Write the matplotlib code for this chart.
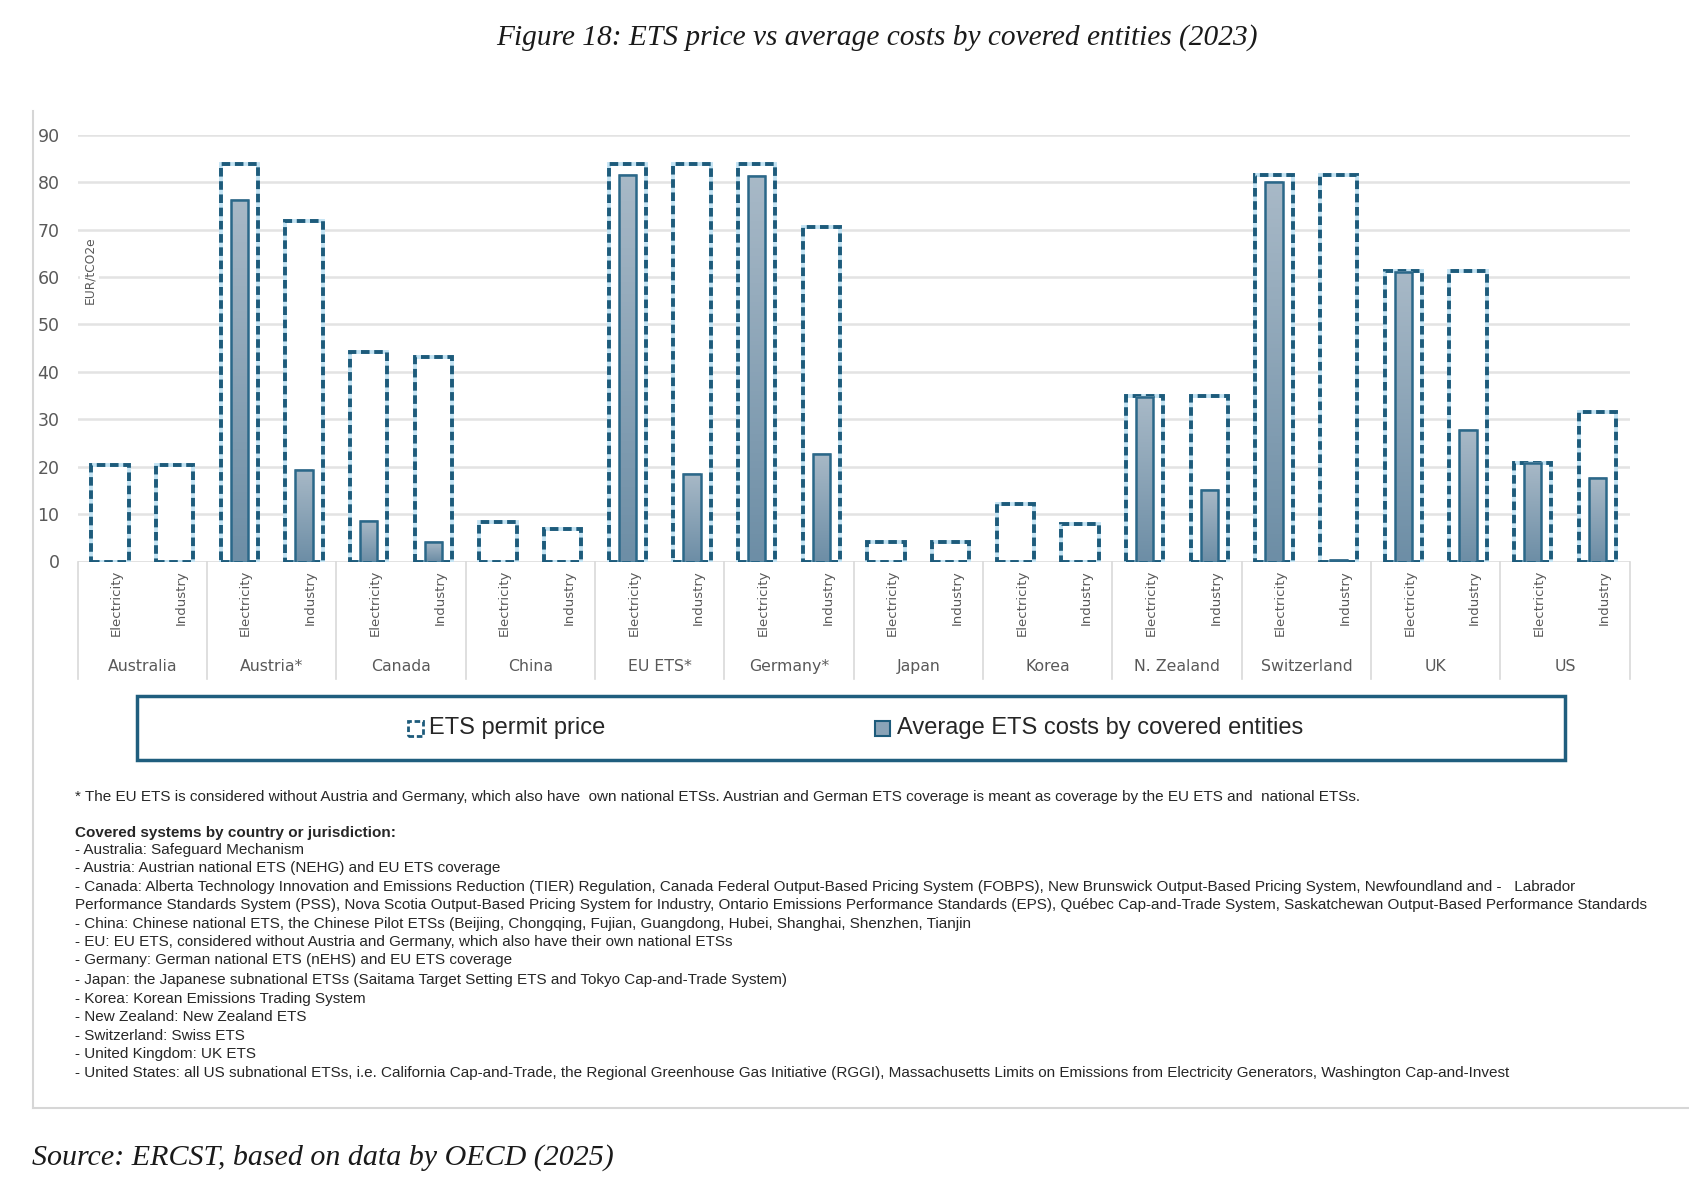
import numpy as np
import matplotlib
matplotlib.use('Agg')
import matplotlib.pyplot as plt
from matplotlib.patches import Rectangle
from matplotlib.lines import Line2D
from matplotlib.colors import LinearSegmentedColormap

# data (EUR/tCO2e)
countries = ['Australia', 'Austria*', 'Canada', 'China', 'EU ETS*', 'Germany*',
             'Japan', 'Korea', 'N. Zealand', 'Switzerland', 'UK', 'US']
sectors = ['Electricity', 'Industry']
permit_elec = [20.3, 83.8, 44.2, 8.4, 83.8, 83.8, 4.2, 12.2, 34.9, 81.4, 61.3, 20.8]
permit_ind = [20.3, 71.7, 43.2, 6.9, 83.8, 70.5, 4.2, 8.0, 34.9, 81.4, 61.3, 31.6]
avg_elec = [0, 76.2, 8.5, 0, 81.6, 81.2, 0, 0, 34.7, 80.0, 61.1, 20.8]
avg_ind = [0, 19.2, 4.2, 0, 18.4, 22.6, 0, 0, 15.0, 0.3, 27.7, 17.7]

notes = [
    "* The EU ETS is considered without Austria and Germany, which also have  own national ETSs. Austrian and German ETS coverage is meant as coverage by the EU ETS and  national ETSs.",
    "Covered systems by country or jurisdiction:",
    "- Australia: Safeguard Mechanism",
    "- Austria: Austrian national ETS (NEHG) and EU ETS coverage",
    "- Canada: Alberta Technology Innovation and Emissions Reduction (TIER) Regulation, Canada Federal Output-Based Pricing System (FOBPS), New Brunswick Output-Based Pricing System, Newfoundland and -   Labrador",
    "Performance Standards System (PSS), Nova Scotia Output-Based Pricing System for Industry, Ontario Emissions Performance Standards (EPS), Québec Cap-and-Trade System, Saskatchewan Output-Based Performance Standards",
    "- China: Chinese national ETS, the Chinese Pilot ETSs (Beijing, Chongqing, Fujian, Guangdong, Hubei, Shanghai, Shenzhen, Tianjin",
    "- EU: EU ETS, considered without Austria and Germany, which also have their own national ETSs",
    "- Germany: German national ETS (nEHS) and EU ETS coverage",
    "- Japan: the Japanese subnational ETSs (Saitama Target Setting ETS and Tokyo Cap-and-Trade System)",
    "- Korea: Korean Emissions Trading System",
    "- New Zealand: New Zealand ETS",
    "- Switzerland: Swiss ETS",
    "- United Kingdom: UK ETS",
    "- United States: all US subnational ETSs, i.e. California Cap-and-Trade, the Regional Greenhouse Gas Initiative (RGGI), Massachusetts Limits on Emissions from Electricity Generators, Washington Cap-and-Invest",
]

permit = np.ravel(np.column_stack([permit_elec, permit_ind]))
avg = np.ravel(np.column_stack([avg_elec, avg_ind]))
x = np.arange(len(permit))

W, H = 1690, 1184
fig = plt.figure(figsize=(W / 100, H / 100), dpi=100)
ax = fig.add_axes([77.6 / W, 1 - 561.5 / H, (1629.7 - 77.6) / W, (561.5 - 134.7) / H])

dark = '#1d5b7b'
light = '#c3e3f3'
grid = '#e3e3e3'
txtgrey = '#595959'

for v in range(10, 100, 10):
    ax.axhline(v, color=grid, lw=1.8, zorder=0)
ax.axhline(0, color='#d9d9d9', lw=1.8, zorder=1)

# permit price: white boxes with dashed outline
ax.bar(x, permit, width=0.58, color='white', edgecolor=light, linewidth=2.8, zorder=2)
ax.bar(x, permit, width=0.58, fill=False, edgecolor=dark, linewidth=2.8,
       linestyle=(0, (2.2, 1.2)), zorder=3)

# average costs: gradient filled bars
cmap = LinearSegmentedColormap.from_list('g', ['#6d8ea6', '#a8b9c7'])
grad = np.linspace(0, 1, 100).reshape(-1, 1)
wa = 0.27
for xi, h in zip(x, avg):
    if h <= 0:
        continue
    ax.imshow(grad, extent=[xi - wa / 2, xi + wa / 2, 0, h], origin='lower',
              aspect='auto', cmap=cmap, zorder=4)
    ax.add_patch(Rectangle((xi - wa / 2, 0), wa, h, fill=False, edgecolor='#2b6889',
                           linewidth=1.8, zorder=5))

ax.set_xlim(-0.5, len(x) - 0.5)
ax.set_ylim(0, 90)
ax.set_yticks(range(0, 100, 10))
ax.tick_params(axis='y', length=0, labelsize=12.5, labelcolor=txtgrey, pad=13)
ax.set_xticks([])
for s in ax.spines.values():
    s.set_visible(False)

ax.text(0.0035, 61.5, 'EUR/tCO2e', rotation=90, fontsize=8.8, color=txtgrey,
        transform=ax.get_yaxis_transform(), ha='left', va='center',
        bbox=dict(facecolor='white', edgecolor='none', pad=2), zorder=1)

# category axis labels
trans = ax.get_xaxis_transform()
for i, c in enumerate(countries):
    for j, s in enumerate(sectors):
        ax.text(2 * i + j + 0.1, -0.02, s, rotation=90, ha='center', va='top',
                fontsize=9.5, color=txtgrey, transform=trans, clip_on=False)
    ax.text(2 * i + 0.5, -0.245, c, ha='center', va='center', fontsize=11.3,
            color=txtgrey, transform=trans, clip_on=False)
for b in np.arange(-0.5, len(x), 2):
    ax.add_line(Line2D([b, b], [0, -0.275], color='#d9d9d9', lw=1.2,
                       transform=trans, clip_on=False))

# legend box
fig.add_artist(Rectangle((137 / W, 1 - 760 / H), (1565 - 137) / W, 64 / H,
                         transform=fig.transFigure, facecolor='white',
                         edgecolor='#1f5e7e', linewidth=2.5))
fig.add_artist(Rectangle((408 / W, 1 - 736 / H), 15 / W, 15 / H,
                         transform=fig.transFigure, facecolor='white',
                         edgecolor=dark, linewidth=2, linestyle=(0, (2, 1))))
fig.text(429 / W, 1 - 728 / H, 'ETS permit price', fontsize=17, color='#262626',
         va='center', family='Liberation Sans')
fig.add_artist(Rectangle((875 / W, 1 - 736 / H), 15 / W, 15 / H,
                         transform=fig.transFigure, facecolor='#8aa3b7',
                         edgecolor=dark, linewidth=1.5))
fig.text(897 / W, 1 - 728 / H, 'Average ETS costs by covered entities', fontsize=17,
         color='#262626', va='center', family='Liberation Sans')

# notes
ys = [797, 833, 850, 868, 887, 905, 924, 942, 960, 980, 999, 1017, 1036, 1054, 1073]
for k, (t, yy) in enumerate(zip(notes, ys)):
    fig.text(75 / W, 1 - yy / H, t, fontsize=11, color='#262626', va='center',
             family='Liberation Sans', weight='bold' if k == 1 else 'normal')

# frame
fig.add_artist(Line2D([33 / W, 33 / W], [1 - 111 / H, 1 - 1108 / H], color='#d6d6d6',
                      lw=1.5, transform=fig.transFigure))
fig.add_artist(Line2D([33 / W, 1], [1 - 1108 / H, 1 - 1108 / H], color='#d6d6d6',
                      lw=1.5, transform=fig.transFigure))

fig.text(0.519, 1 - 38 / H, 'Figure 18: ETS price vs average costs by covered entities (2023)',
         ha='center', va='center', fontsize=21.2, style='italic', family='Liberation Serif',
         color='#1a1a1a')
fig.text(32 / W, 1 - 1158 / H, 'Source: ERCST, based on data by OECD (2025)',
         ha='left', va='center', fontsize=21.6, style='italic', family='Liberation Serif',
         color='#1a1a1a')

plt.savefig('out.png', dpi=100)
